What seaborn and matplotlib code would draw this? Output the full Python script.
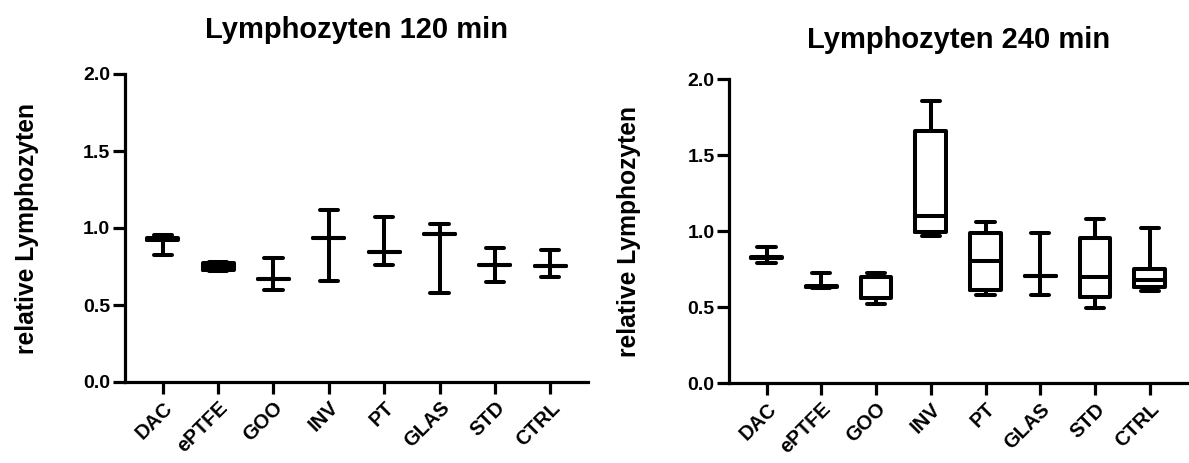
import numpy as np
import pandas as pd
import matplotlib
matplotlib.use("Agg")
import matplotlib.pyplot as plt
import seaborn as sns

# ---------------- data (five-number summaries) ----------------
categories = ["DAC", "ePTFE", "GOO", "INV", "PT", "GLAS", "STD", "CTRL"]

min_120 = [0.826, 0.720, 0.595, 0.658, 0.759, 0.578, 0.649, 0.680]
q1_120 = [0.925, 0.730, 0.667, 0.936, 0.846, 0.958, 0.759, 0.753]
med_120 = [0.928, 0.750, 0.667, 0.936, 0.846, 0.958, 0.759, 0.753]
q3_120 = [0.935, 0.770, 0.667, 0.936, 0.846, 0.958, 0.759, 0.753]
max_120 = [0.956, 0.780, 0.807, 1.118, 1.070, 1.027, 0.869, 0.859]

min_240 = [0.793, 0.624, 0.519, 0.970, 0.578, 0.578, 0.497, 0.609]
q1_240 = [0.825, 0.632, 0.563, 0.997, 0.613, 0.705, 0.565, 0.635]
med_240 = [0.828, 0.635, 0.700, 1.100, 0.806, 0.705, 0.701, 0.679]
q3_240 = [0.832, 0.640, 0.701, 1.660, 0.986, 0.705, 0.953, 0.749]
max_240 = [0.898, 0.723, 0.723, 1.858, 1.058, 0.986, 1.078, 1.019]

titles = ["Lymphozyten 120 min", "Lymphozyten 240 min"]
y_label = "relative Lymphozyten"
y_ticks = [0.0, 0.5, 1.0, 1.5, 2.0]


def build(mins, q1, med, q3, maxs):
    rows = []
    for c, a, b, m, d, e in zip(categories, mins, q1, med, q3, maxs):
        for v in (a, b, m, d, e):
            rows.append({"Gruppe": c, "Wert": v})
    return pd.DataFrame(rows)


df120 = build(min_120, q1_120, med_120, q3_120, max_120)
df240 = build(min_240, q1_240, med_240, q3_240, max_240)

# ---------------- style ----------------
sns.set_style("ticks")
plt.rcParams["font.family"] = ["Liberation Sans", "DejaVu Sans"]
plt.rcParams["font.weight"] = "bold"
plt.rcParams["text.color"] = "black"
plt.rcParams["axes.labelcolor"] = "black"
plt.rcParams["xtick.color"] = "black"
plt.rcParams["ytick.color"] = "black"

W, H = 1189, 463
fig = plt.figure(figsize=(W / 100, H / 100), dpi=100)
ax1 = fig.add_axes([125 / W, (H - 382) / H, 463 / W, 308 / H])
ax2 = fig.add_axes([729.3 / W, (H - 383.3) / H, 457.7 / W, 304 / H])

specs = [
    (ax1, df120, titles[0], 26, -0.2117),
    (ax2, df240, titles[1], 22.5, -0.220),
]

for ax, df, title, pad, ylx in specs:
    sns.boxplot(
        data=df, x="Gruppe", y="Wert", order=categories, ax=ax,
        whis=(0, 100), width=0.56, fill=False, color="black",
        linewidth=2.9, showfliers=False, capwidths=0.33,
    )
    ax.set_xlim(-0.68, 7.68)
    ax.set_ylim(0, 2.0)
    ax.set_yticks(y_ticks)
    ax.set_yticklabels([f"{t:.1f}" for t in y_ticks])
    sns.despine(ax=ax)
    for s in ("left", "bottom"):
        ax.spines[s].set_linewidth(2.3)
        ax.spines[s].set_color("black")
    ax.tick_params(axis="both", length=8.6, width=2.3, color="black",
                   labelcolor="black", pad=2)
    ax.tick_params(axis="y", labelsize=14)
    ax.tick_params(axis="x", labelsize=14.5, pad=3)
    for lab in ax.get_xticklabels():
        lab.set_rotation(45)
        lab.set_ha("right")
        lab.set_va("top")
        lab.set_rotation_mode("anchor")
        lab.set_fontweight("bold")
    for lab in ax.get_yticklabels():
        lab.set_fontweight("bold")
    ax.set_xlabel("")
    ax.set_ylabel(y_label, fontsize=17.7, fontweight="bold", color="black")
    ax.yaxis.set_label_coords(ylx, 0.5)
    ax.yaxis.label.set_va("center")
    ax.set_title(title, fontsize=21, fontweight="bold", pad=pad, color="black")

fig.savefig("out.png", dpi=100, facecolor="white")
